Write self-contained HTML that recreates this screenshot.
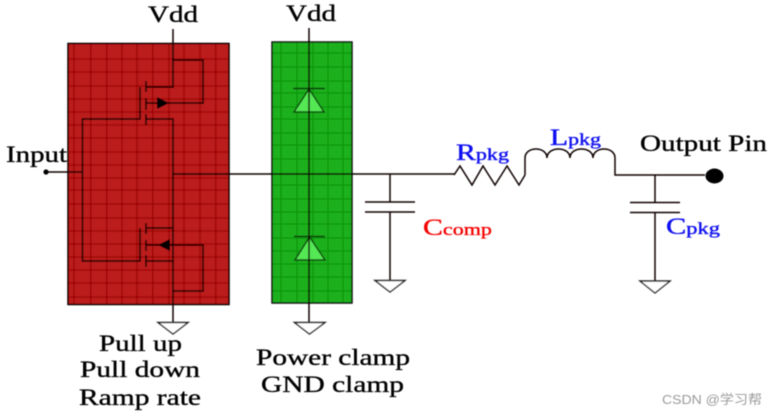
<!DOCTYPE html>
<html>
<head>
<meta charset="utf-8">
<style>
html,body{margin:0;padding:0;background:#fff;width:777px;height:415px;overflow:hidden}
svg{display:block}
text{font-family:"Liberation Serif",serif;font-size:23px;fill:#000;stroke:#000;stroke-width:.35px}
.sub{font-size:17px}
.blue{fill:#0808f0;stroke:#0808f0}
.red{fill:#f40000;stroke:#f40000}
.wm{font-family:"Liberation Sans","Noto Sans CJK SC",sans-serif;font-size:13px;fill:#9a9a9a;stroke:none}
</style>
</head>
<body>
<svg width="777" height="415" viewBox="0 0 777 415" xmlns="http://www.w3.org/2000/svg">
<defs><filter id="b" x="-5%" y="-5%" width="110%" height="110%"><feGaussianBlur stdDeviation="0.4"/></filter></defs>
<g filter="url(#b)">
<!-- red block -->
<rect x="68" y="43.5" width="161" height="261" fill="#bb1c1c"/>
<path d="M74 44V304M90.7 44V304M106.7 44V304M122 44V304M137 44V304M152.7 44V304M169 44V304M184 44V304M200 44V304M215.7 44V304
M68 59H229M68 72H229M68 86H229M68 99H229M68 112H229M68 125H229M68 138H229M68 152H229M68 165H229M68 178H229M68 190H229M68 204H229M68 218H229M68 231H229M68 244H229M68 257H229M68 270H229M68 283H229M68 297H229" stroke="#9c0404" stroke-width="1.300" fill="none"/>
<rect x="68" y="43.5" width="161" height="261" fill="none" stroke="#000" stroke-width="1.500"/>
<!-- green block -->
<rect x="272" y="42" width="80" height="261" fill="#1cb01c"/>
<path d="M281 42V303M297 42V303M313 42V303M328 42V303M343 42V303
M272 53H352M272 67H352M272 81H352M272 93H352M272 107H352M272 119H352M272 133H352M272 145H352M272 159H352M272 185H352M272 199H352M272 212H352M272 224H352M272 238H352M272 251H352M272 264H352M272 277H352M272 291H352" stroke="#0a960a" stroke-width="1.300" fill="none"/>
<rect x="272" y="42" width="80" height="261" fill="none" stroke="#111" stroke-width="1.500"/>
<!-- diodes -->
<path d="M309 89L324 112H294Z" fill="#55e855" stroke="#0b4a0b" stroke-width="1.500"/>
<path d="M293 88.500H325" stroke="#0b3a0b" stroke-width="1.500"/>
<path d="M309.500 237L325 260H295Z" fill="#55e855" stroke="#0b4a0b" stroke-width="1.500"/>
<path d="M294 236.500H325" stroke="#0b3a0b" stroke-width="1.500"/>
<!-- MOS and wiring -->
<g fill="none" stroke="#100" stroke-width="1.500">
<path d="M173 29V87H146"/>
<path d="M173 60H203V103H146"/>
<path d="M146 81V92M146 98V110M146 114V125"/>
<path d="M140 87V119H82.500V261H140V228"/>
<path d="M146 119H173V261H146"/>
<path d="M173 228H146"/>
<path d="M146 223V234M146 240V251M146 255V267"/>
<path d="M146 245H203V291H173"/>
<path d="M173 261V322"/>
<path d="M46 172H82"/>
<path d="M173 174H455"/>
<path d="M309 28V322"/>
<path d="M390 174V202M390 212V280"/>
<path d="M365 202H415M365 212H415"/>
<path d="M454 175L460 166L472 185L483 166L495 185L507 166L519 185L525 175"/>
<path d="M525 175V158C525 146 547 146 547 158C547 146 570 146 570 158C570 146 593 146 593 158C593 146 615 146 615 158V175H705"/>
<path d="M655 175V202M655 212V281"/>
<path d="M630 202.500H680M630 212.500H680"/>
</g>
<path d="M157 97L169 103L157 109Z" fill="#000"/>
<path d="M170 239L158 245L170 251Z" fill="#000"/>
<circle cx="46" cy="172" r="2.600" fill="#000"/>
<ellipse cx="714.500" cy="176" rx="9" ry="7.500" fill="#000"/>
<!-- grounds -->
<g fill="#fff" stroke="#222" stroke-width="1.400">
<path d="M158 322.500H188L173 334Z"/>
<path d="M294.500 322.500H325L309.500 334Z"/>
<path d="M375 280.500H405L390 292Z"/>
<path d="M640 281H670L655 293Z"/>
</g>
<!-- labels -->
<text x="148" y="22" textLength="50" lengthAdjust="spacingAndGlyphs">Vdd</text>
<text x="286" y="21" textLength="50" lengthAdjust="spacingAndGlyphs">Vdd</text>
<text x="6" y="162" textLength="61" lengthAdjust="spacingAndGlyphs">Input</text>
<text x="99" y="351" textLength="83" lengthAdjust="spacingAndGlyphs">Pull up</text>
<text x="80" y="377" textLength="120" lengthAdjust="spacingAndGlyphs">Pull down</text>
<text x="79" y="405" textLength="122" lengthAdjust="spacingAndGlyphs">Ramp rate</text>
<text x="256" y="365" textLength="154" lengthAdjust="spacingAndGlyphs">Power clamp</text>
<text x="261" y="392" textLength="143" lengthAdjust="spacingAndGlyphs">GND clamp</text>
<text x="640" y="151" textLength="127" lengthAdjust="spacingAndGlyphs">Output Pin</text>
<text class="blue" x="456" y="160" textLength="53" lengthAdjust="spacingAndGlyphs">R<tspan class="sub">pkg</tspan></text>
<text class="blue" x="550" y="145" textLength="51" lengthAdjust="spacingAndGlyphs">L<tspan class="sub">pkg</tspan></text>
<text class="red" x="423" y="235" textLength="69" lengthAdjust="spacingAndGlyphs">C<tspan class="sub">comp</tspan></text>
<text class="blue" x="666" y="234" textLength="54" lengthAdjust="spacingAndGlyphs">C<tspan class="sub">pkg</tspan></text>
<text class="wm" x="662" y="404" textLength="100" lengthAdjust="spacingAndGlyphs">CSDN @学习帮</text>
</g>
</svg>
</body>
</html>
